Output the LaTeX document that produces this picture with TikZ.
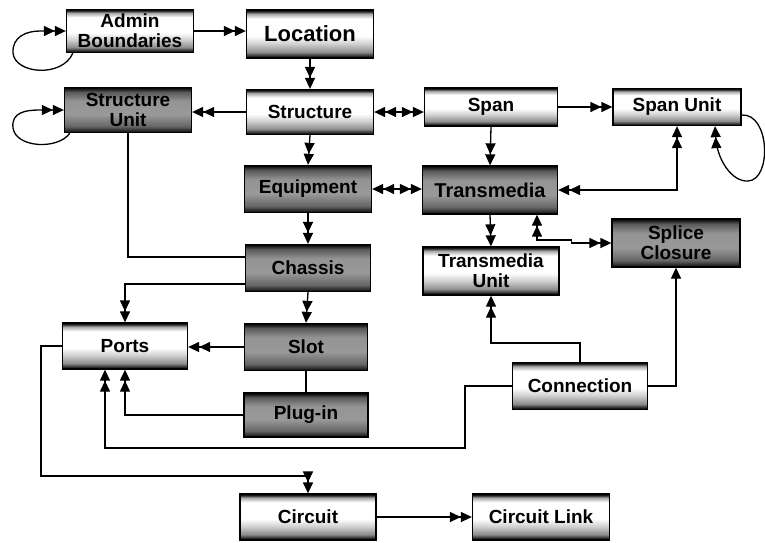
\documentclass[tikz,border=0pt]{standalone}
\usepackage{fontspec}
\setmainfont{Liberation Sans}
\usetikzlibrary{arrows.meta}

% box fillings: black edges, light or grey middle
\pgfdeclareverticalshading{lightfill}{100bp}{color(0bp)=(black); color(25bp)=(black); color(27bp)=(black!85); color(31bp)=(black!45); color(40bp)=(black!18); color(48bp)=(white); color(66bp)=(white); color(71bp)=(black!35); color(73.5bp)=(black!85); color(75bp)=(black); color(100bp)=(black)}
\pgfdeclareverticalshading{darkfill}{100bp}{color(0bp)=(black); color(25bp)=(black); color(27bp)=(black!85); color(32bp)=(black!60); color(45bp)=(black!40); color(60bp)=(black!42); color(70bp)=(black!65); color(73.5bp)=(black!90); color(75bp)=(black); color(100bp)=(black)}

\tikzset{
  box/.style={draw, line width=1.3pt, minimum width=127pt, minimum height=45pt,
    inner sep=1pt, align=center, font=\fontsize{19}{20}\selectfont\bfseries},
  lightbox/.style={box, shading=lightfill},
  darkbox/.style={box, shading=darkfill},
  link/.style={line width=1.3pt},
  many/.style={link, -{Triangle[length=11pt,width=10pt]Triangle[length=11pt,width=10pt]}},
  manyboth/.style={link, {Triangle[length=11pt,width=10pt]Triangle[length=11pt,width=10pt]}-{Triangle[length=11pt,width=10pt]Triangle[length=11pt,width=10pt]}},
  one/.style={link, -{Triangle[length=11pt,width=10pt]}}
}

\begin{document}
\begin{tikzpicture}[x=1pt,y=-1pt]
  \useasboundingbox (0,0) rectangle (765,542);

  \node[lightbox, minimum height=43pt] (adm) at (130,31) {Admin\\Boundaries};
  \node[lightbox, minimum height=48pt, font=\fontsize{22}{24}\selectfont\bfseries] (loc) at (310,34) {Location};

  \node[darkbox] (su)  at (128,110) {Structure\\Unit};
  \node[lightbox] (str) at (310,112) {Structure};
  \node[lightbox, minimum width=133pt, minimum height=38pt] (span) at (491,107) {Span};
  \node[lightbox, minimum width=128pt, minimum height=37pt] (spu) at (677,107) {Span Unit};

  \node[darkbox, minimum height=47pt] (eqp) at (308,189) {Equipment};
  \node[darkbox, minimum width=135pt, minimum height=48pt, font=\fontsize{20}{20}\selectfont\bfseries] (tm) at (490,190) {Transmedia};
  \node[darkbox, minimum width=128pt, minimum height=48pt] (spl) at (676,243) {Splice\\Closure};

  \node[darkbox, minimum width=125pt, minimum height=47pt] (chs) at (308,268) {Chassis};
  \node[lightbox, minimum width=136pt, minimum height=48pt] (tmu) at (491,271) {Transmedia\\Unit};

  \node[lightbox, minimum width=125pt, minimum height=46pt] (prt) at (125,346) {Ports};
  \node[darkbox, minimum width=123pt, minimum height=47pt] (slt) at (306,347) {Slot};
  \node[darkbox, minimum width=124pt, minimum height=44pt] (plg) at (306,415) {Plug-in};
  \node[lightbox, minimum width=135pt, minimum height=47pt] (con) at (580,386) {Connection};

  \node[lightbox, minimum width=136pt, minimum height=46pt] (cir) at (308,517) {Circuit};
  \node[lightbox, minimum width=137pt, minimum height=46pt] (cil) at (541,517) {Circuit Link};

  % top rows
  \draw[many] (adm.east) -- (adm.east -| loc.west);
  \draw[many] (loc.south) -- (str.north);
  \draw[many] (str.west) -- (str.west -| su.east);
  \draw[manyboth] (str.east) -- (str.east -| span.west);
  \draw[many] (span.east) -- (span.east -| spu.west);
  \draw[many] (span.south) -- (tm.north);
  \draw[manyboth] (tm.east) -| (spu.south);

  % self loops
  \draw[many] ([xshift=7pt]adm.south west) .. controls (62,78) and (15,74) .. (13,53)
    .. controls (12,37) and (26,31) .. (40,31) -- (adm.west);
  \draw[many] ([xshift=6pt]su.south west) .. controls (58,150) and (16,148) .. (13,128)
    .. controls (11,112) and (26,110) .. (40,110) -- (su.west);
  \draw[many] ([yshift=-8pt]spu.east) .. controls (770,113) and (772,180) .. (748,181)
    .. controls (732,182) and (717,160) .. ([xshift=38pt]spu.south);

  % middle
  \draw[many] (str.south) -- (eqp.north);
  \draw[manyboth] (eqp.east) -- (eqp.east -| tm.west);
  \draw[many] (tm.south) -- (tmu.north);
  \draw[manyboth] (spl.west) -- ++(-40,0) -- ++(0,-3) -| ([xshift=47pt]tm.south);
  \draw[many] (eqp.south) -- (chs.north);
  \draw[link] (su.south) |- ([yshift=11pt]chs.west);
  \draw[many] ([yshift=-16pt]chs.west) -| (prt.north);
  \draw[many] (chs.south) -- (slt.north);

  % lower part
  \draw[many] (slt.west) -- (slt.west -| prt.east);
  \draw[link] (slt.south) -- (plg.north);
  \draw[many] (plg.west) -| (prt.south);
  \draw[many] (con.west) -- ++(-47,0) -- ++(0,62) -| ([xshift=-20pt]prt.south);
  \draw[many] (con.north) -- ++(0,-19) -| (tmu.south);
  \draw[one] (con.east) -| (spl.south);
  \draw[many] (prt.west) -- ++(-21,0) -- ++(0,130) -| (cir.north);
  \draw[many] (cir.east) -- (cil.west);

\end{tikzpicture}
\end{document}
